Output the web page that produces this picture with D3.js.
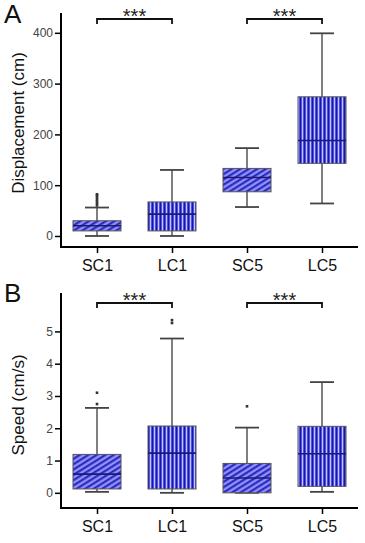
<!DOCTYPE html>
<html>
<head>
<meta charset="utf-8">
<script src="https://cdn.jsdelivr.net/npm/d3@7"></script>
<style>
  body { margin: 0; background: #fff; }
  text { font-family: "Liberation Sans", Arial, sans-serif; }
</style>
</head>
<body>
<div id="chart"></div>
<script>
var width = 365, height = 543;

var groups = ["SC1", "LC1", "SC5", "LC5"];

// panel A: displacement (cm)
var dispLow    = [0, 0, 57, 64];
var dispQ1     = [10, 10, 87, 143];
var dispMedian = [20, 43, 115, 188];
var dispQ3     = [30, 67, 133, 274];
var dispHigh   = [56, 130, 173, 399];
var dispOutliers = [[60, 64, 68, 72, 76, 80, 82], [], [], []];
var dispTicks = [0, 100, 200, 300, 400];

// panel B: speed (cm/s)
var speedLow    = [0.03, 0.0, 0.0, 0.03];
var speedQ1     = [0.12, 0.12, 0.0, 0.2];
var speedMedian = [0.58, 1.23, 0.46, 1.21];
var speedQ3     = [1.19, 2.07, 0.91, 2.06];
var speedHigh   = [2.63, 4.78, 2.02, 3.43];
var speedOutliers = [[2.75, 3.1], [5.26, 5.35], [2.68], []];
var speedTicks = [0, 1, 2, 3, 4, 5];

var comparisons = [["SC1", "LC1"], ["SC5", "LC5"]];

var svg = d3.select("#chart").append("svg")
    .attr("width", width)
    .attr("height", height);

var defs = svg.append("defs");

// diagonal hatch for the SC groups
var diag = defs.append("pattern")
    .attr("id", "diag")
    .attr("patternUnits", "userSpaceOnUse")
    .attr("width", 5).attr("height", 4.5)
    .attr("patternTransform", "rotate(-32)");
diag.append("rect").attr("width", 5).attr("height", 4.5).attr("fill", "#5a5af2");
diag.append("rect").attr("y", 0).attr("width", 5).attr("height", 1.2).attr("fill", "#1e1e9c");
diag.append("rect").attr("y", 2.4).attr("width", 5).attr("height", 0.9).attr("fill", "#c4c4ff");

// vertical lines for the LC groups
var vert = defs.append("pattern")
    .attr("id", "vert")
    .attr("patternUnits", "userSpaceOnUse")
    .attr("width", 4).attr("height", 4);
vert.append("rect").attr("width", 4).attr("height", 4).attr("fill", "#4f4ff0");
vert.append("rect").attr("x", 0).attr("width", 1).attr("height", 4).attr("fill", "#1a1a90");
vert.append("rect").attr("x", 2).attr("width", 0.9).attr("height", 4).attr("fill", "#d0d0ff");

var x = d3.scalePoint()
    .domain(groups)
    .range([97, 322]);

var boxW = 48;

function drawPanel(cfg) {
    var g = svg.append("g");

    var y = d3.scaleLinear()
        .domain(cfg.domain)
        .range(cfg.range);

    // y axis
    var yAxis = g.append("g")
        .attr("transform", "translate(61,0)")
        .call(d3.axisLeft(y).tickValues(cfg.ticks).tickFormat(d3.format("d")).tickSize(6).tickPadding(2));
    yAxis.select(".domain").remove();
    yAxis.selectAll(".tick line").attr("stroke", "#000").attr("stroke-width", 1.5);
    yAxis.selectAll(".tick text")
        .attr("font-size", 12)
        .attr("fill", "#444")
        .style("font-family", "'Liberation Sans', Arial, sans-serif");

    g.append("line")
        .attr("x1", 61).attr("x2", 61)
        .attr("y1", cfg.range[1]).attr("y2", cfg.range[0])
        .attr("stroke", "#000").attr("stroke-width", 2);

    // x axis
    var xAxis = g.append("g")
        .attr("transform", "translate(0," + cfg.range[0] + ")")
        .call(d3.axisBottom(x).tickSize(6).tickPadding(7));
    xAxis.select(".domain").remove();
    xAxis.selectAll(".tick line").attr("stroke", "#000").attr("stroke-width", 1.5);
    xAxis.selectAll(".tick text")
        .attr("font-size", 16)
        .attr("fill", "#111")
        .style("font-family", "'Liberation Sans', Arial, sans-serif");

    g.append("line")
        .attr("x1", 60).attr("x2", 358)
        .attr("y1", cfg.range[0]).attr("y2", cfg.range[0])
        .attr("stroke", "#000").attr("stroke-width", 2);

    // whiskers
    groups.forEach(function(name, i) {
        var cx = x(name);
        g.append("line")
            .attr("x1", cx).attr("x2", cx)
            .attr("y1", y(cfg.low[i])).attr("y2", y(cfg.high[i]))
            .attr("stroke", "#555").attr("stroke-width", 1.5);
        [cfg.low[i], cfg.high[i]].forEach(function(v) {
            g.append("line")
                .attr("x1", cx - 12).attr("x2", cx + 12)
                .attr("y1", y(v)).attr("y2", y(v))
                .attr("stroke", "#444").attr("stroke-width", 1.8);
        });

        // box
        g.append("rect")
            .attr("x", cx - boxW / 2)
            .attr("y", y(cfg.q3[i]))
            .attr("width", boxW)
            .attr("height", Math.max(1, y(cfg.q1[i]) - y(cfg.q3[i])))
            .attr("fill", name.indexOf("SC") == 0 ? "url(#diag)" : "url(#vert)")
            .attr("stroke", "#555")
            .attr("stroke-width", 1);

        // median
        g.append("line")
            .attr("x1", cx - boxW / 2).attr("x2", cx + boxW / 2)
            .attr("y1", y(cfg.median[i])).attr("y2", y(cfg.median[i]))
            .attr("stroke", "#1a1a70").attr("stroke-width", 1.6);

        // outliers
        g.selectAll(null)
            .data(cfg.outliers[i])
            .enter()
            .append("rect")
            .attr("x", cx - 1.3)
            .attr("y", function(d) { return y(d) - 1.3; })
            .attr("width", 2.6).attr("height", 2.6)
            .attr("fill", "#333");
    });

    // significance brackets
    comparisons.forEach(function(pair) {
        var x1 = x(pair[0]), x2 = x(pair[1]);
        g.append("path")
            .attr("d", "M" + x1 + "," + (cfg.bracketY + 5) + "V" + cfg.bracketY + "H" + x2 + "V" + (cfg.bracketY + 5))
            .attr("fill", "none")
            .attr("stroke", "#111")
            .attr("stroke-width", 1.8);
        g.append("text")
            .attr("x", (x1 + x2) / 2)
            .attr("y", cfg.bracketY + 4)
            .attr("text-anchor", "middle")
            .attr("font-size", 20)
            .attr("fill", "#222")
            .text("***");
    });

    // panel letter
    g.append("text")
        .attr("x", 4)
        .attr("y", cfg.letterY)
        .attr("font-size", 26)
        .attr("fill", "#111")
        .text(cfg.letter);

    // y label
    g.append("text")
        .attr("transform", "translate(" + 24 + "," + cfg.labelY + ") rotate(-90)")
        .attr("text-anchor", "middle")
        .attr("font-size", 17)
        .attr("fill", "#111")
        .text(cfg.label);
}

drawPanel({
    domain: [-21.7, 439],
    range: [247, 13],
    ticks: dispTicks,
    low: dispLow, q1: dispQ1, median: dispMedian, q3: dispQ3, high: dispHigh,
    outliers: dispOutliers,
    bracketY: 19,
    letter: "A", letterY: 23,
    label: "Displacement (cm)", labelY: 123
});

drawPanel({
    domain: [-0.47, 6.19],
    range: [508, 293],
    ticks: speedTicks,
    low: speedLow, q1: speedQ1, median: speedMedian, q3: speedQ3, high: speedHigh,
    outliers: speedOutliers,
    bracketY: 303,
    letter: "B", letterY: 302,
    label: "Speed (cm/s)", labelY: 405
});
</script>
</body>
</html>
